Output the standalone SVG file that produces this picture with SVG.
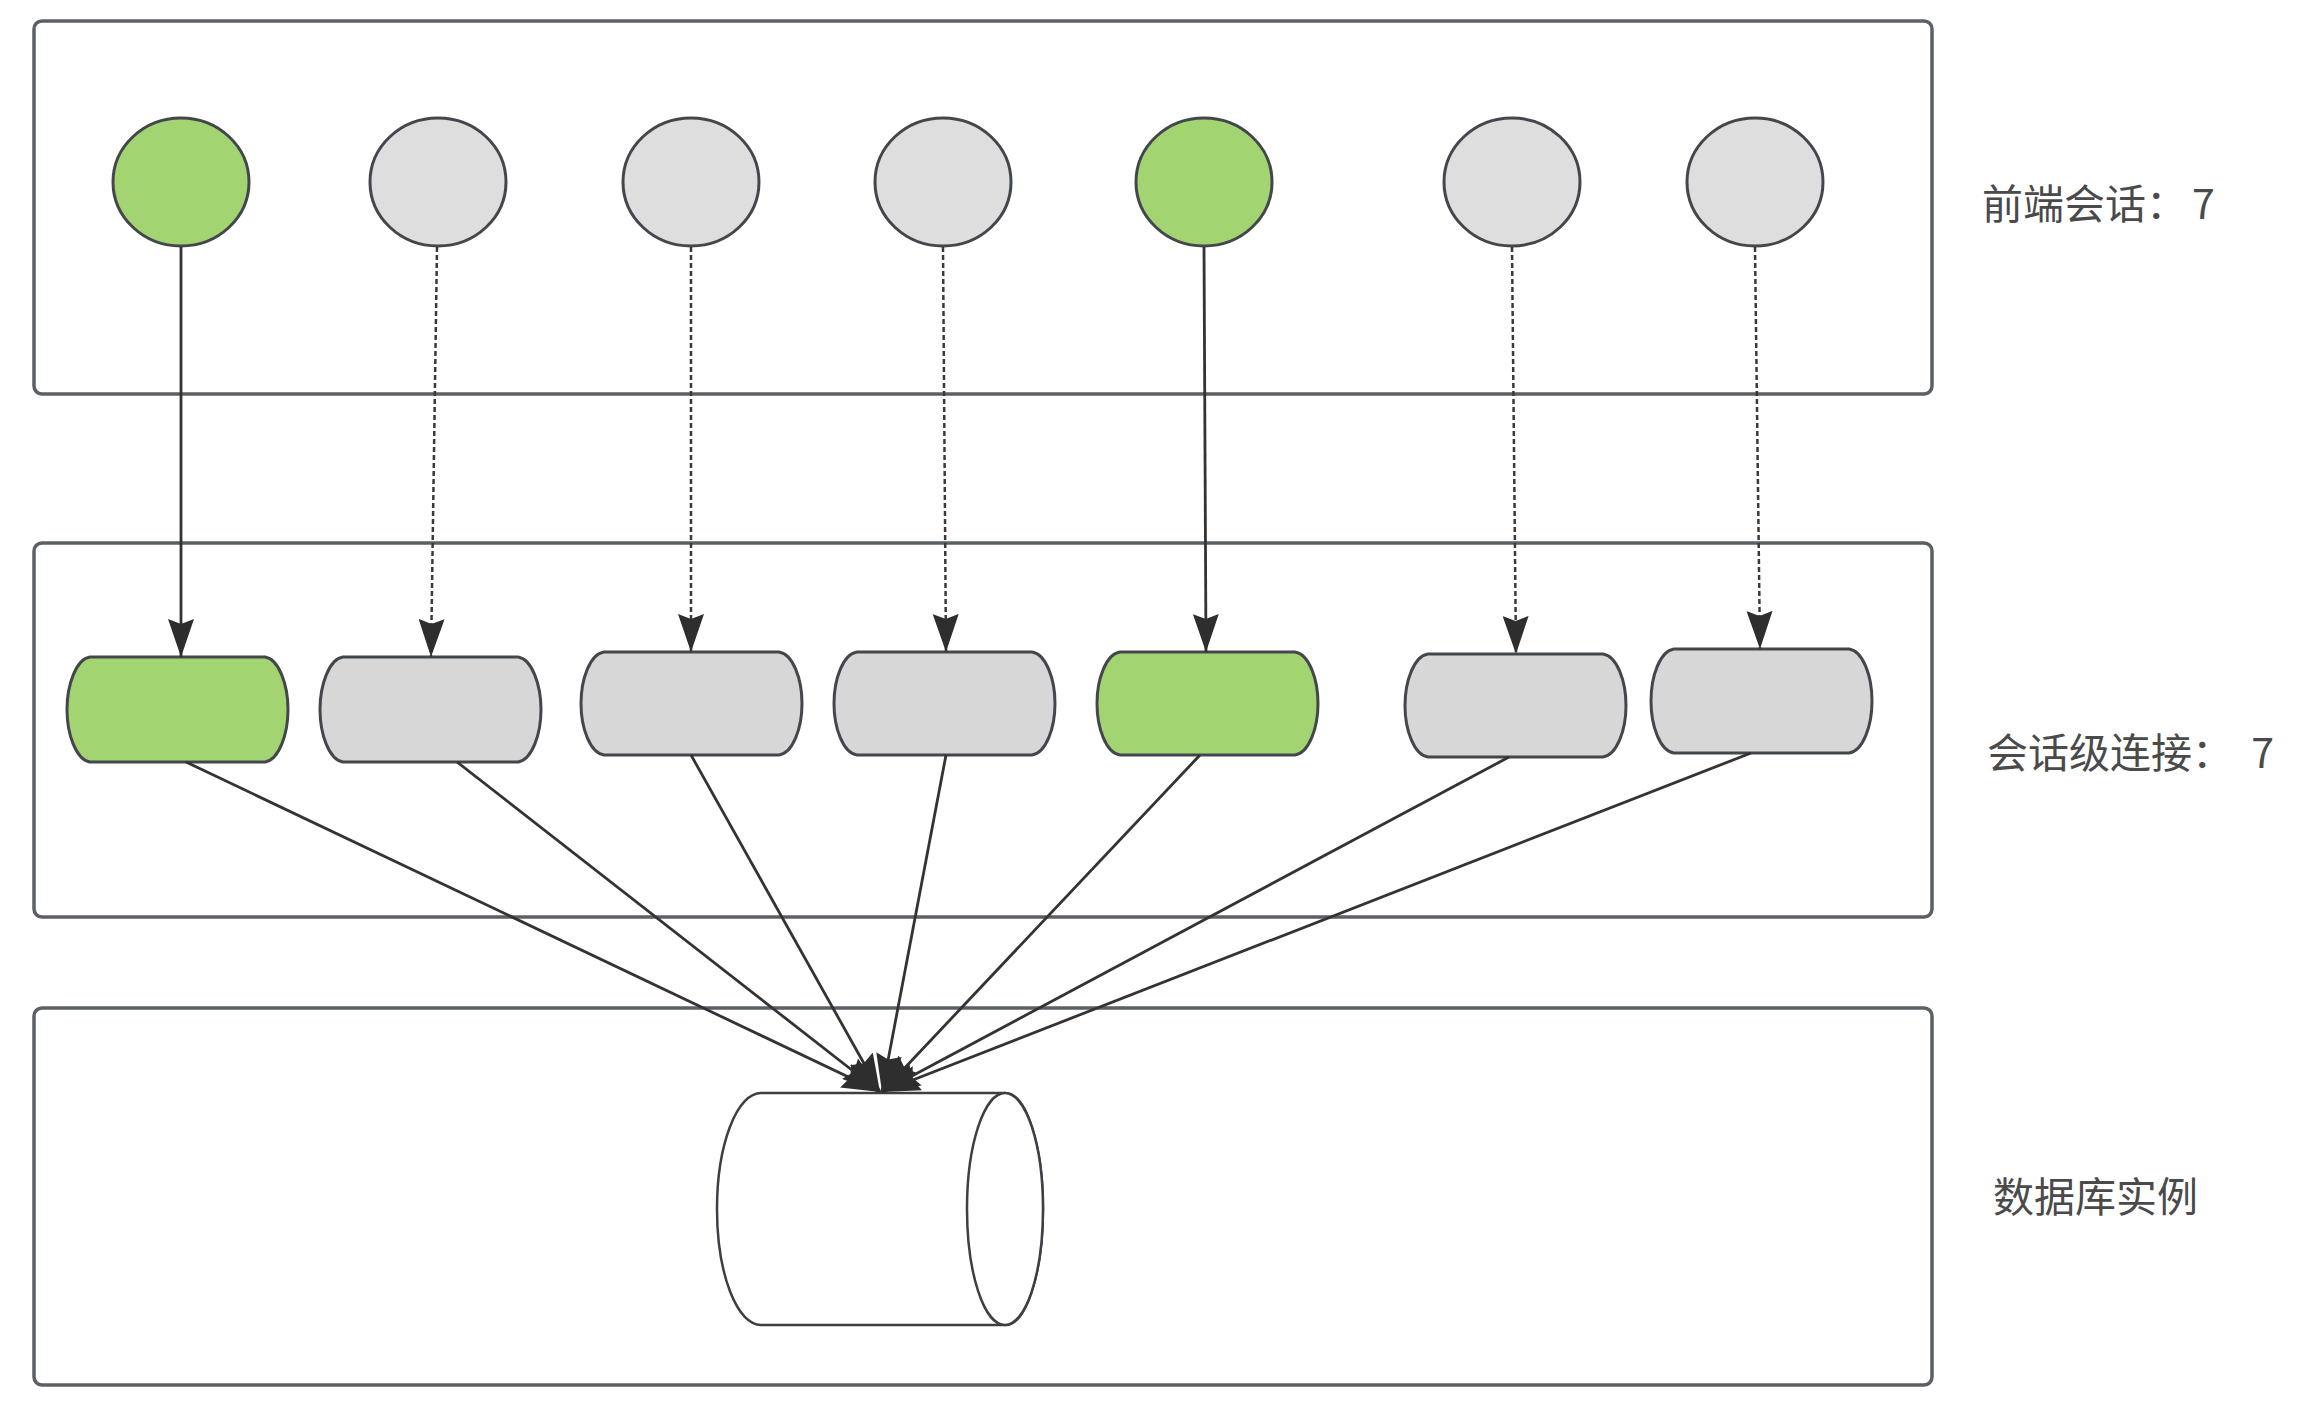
<svg xmlns="http://www.w3.org/2000/svg" width="2302" height="1402" viewBox="0 0 2302 1402">
<style>
.box{fill:none;stroke:#5c6066;stroke-width:3.5}
.ell{stroke:#43474c;stroke-width:3}
.rn{stroke:#43474c;stroke-width:3}
.green{fill:#a2d572}
.grayE{fill:#dedede}
.grayR{fill:#d7d7d7}
.cyl{fill:#ffffff;stroke:#3c4044;stroke-width:2.5}
.solid{fill:none;stroke:#333;stroke-width:2.8;marker-end:url(#arr)}
.dash{fill:none;stroke:#3a3a3a;stroke-width:2.5;stroke-dasharray:5 3;marker-end:url(#arr)}
.lbl{font-family:"Noto Sans CJK SC","Noto Sans",sans-serif;font-size:41px;fill:#4a4a4a}
</style>
<defs>
<marker id="arr" markerUnits="userSpaceOnUse" viewBox="0 0 38 26" refX="38" refY="13" markerWidth="38" markerHeight="26" orient="auto">
<path d="M0,0 L38,13 L0,26 L5,13 Z" fill="#2e2e2e"/>
</marker>
</defs>
<rect width="2302" height="1402" fill="#ffffff"/>
<g id="layers">
<rect id="frontend-layer" class="box" x="34" y="21" width="1898" height="373" rx="8"/>
<rect id="session-layer" class="box" x="34" y="543" width="1898" height="374" rx="8"/>
<rect id="db-layer" class="box" x="34" y="1008" width="1898" height="377" rx="8"/>
</g>
<g id="labels">
<text id="label-frontend" class="lbl" x="1982" y="219">前端会话：<tspan dx="5">7</tspan></text>
<text id="label-session" class="lbl" x="1987" y="768" xml:space="preserve">会话级连接：  7</text>
<text id="label-db" class="lbl" x="1993" y="1212">数据库实例</text>
</g>
<g id="frontend-sessions">
<g id="fs1"><ellipse class="ell green" cx="181" cy="182" rx="68" ry="64"/></g>
<g id="fs2"><ellipse class="ell grayE" cx="438" cy="182" rx="68" ry="64"/></g>
<g id="fs3"><ellipse class="ell grayE" cx="691" cy="182" rx="68" ry="64"/></g>
<g id="fs4"><ellipse class="ell grayE" cx="943" cy="182" rx="68" ry="64"/></g>
<g id="fs5"><ellipse class="ell green" cx="1204" cy="182" rx="68" ry="64"/></g>
<g id="fs6"><ellipse class="ell grayE" cx="1512" cy="182" rx="68" ry="64"/></g>
<g id="fs7"><ellipse class="ell grayE" cx="1755" cy="182" rx="68" ry="64"/></g>
</g>
<g id="session-connections">
<g id="sc1"><path class="rn green" d="M90,657 H265 C279,659 288,685 288,709.5 C288,734 279,760 265,762 H90 C76,760 67,734 67,709.5 C67,685 76,659 90,657 Z"/></g>
<g id="sc2"><path class="rn grayR" d="M343,657 H518 C532,659 541,685 541,709.5 C541,734 532,760 518,762 H343 C329,760 320,734 320,709.5 C320,685 329,659 343,657 Z"/></g>
<g id="sc3"><path class="rn grayR" d="M604,652 H779 C793,654 802,679 802,703.5 C802,728 793,753 779,755 H604 C590,753 581,728 581,703.5 C581,679 590,654 604,652 Z"/></g>
<g id="sc4"><path class="rn grayR" d="M857,652 H1032 C1046,654 1055,679 1055,703.5 C1055,728 1046,753 1032,755 H857 C843,753 834,728 834,703.5 C834,679 843,654 857,652 Z"/></g>
<g id="sc5"><path class="rn green" d="M1120,652 H1295 C1309,654 1318,679 1318,703.5 C1318,728 1309,753 1295,755 H1120 C1106,753 1097,728 1097,703.5 C1097,679 1106,654 1120,652 Z"/></g>
<g id="sc6"><path class="rn grayR" d="M1428,654 H1603 C1617,656 1626,681 1626,705.5 C1626,730 1617,755 1603,757 H1428 C1414,755 1405,730 1405,705.5 C1405,681 1414,656 1428,654 Z"/></g>
<g id="sc7"><path class="rn grayR" d="M1674,649 H1849 C1863,651 1872,676 1872,701 C1872,726 1863,751 1849,753 H1674 C1660,751 1651,726 1651,701 C1651,676 1660,651 1674,649 Z"/></g>
</g>
<g id="database">
<path class="cyl" d="M761,1093 H1005 A38 116 0 0 1 1005,1325 H761 A44 116 0 0 1 761,1093 Z"/>
<ellipse class="cyl" cx="1005" cy="1209" rx="38" ry="116" fill="none"/>
</g>
<g id="connectors">
<line class="solid" x1="181" y1="247" x2="181" y2="657"/>
<line class="dash" x1="437" y1="247" x2="431" y2="657"/>
<line class="dash" x1="691" y1="247" x2="691" y2="652"/>
<line class="dash" x1="943" y1="247" x2="946" y2="652"/>
<line class="solid" x1="1204" y1="247" x2="1206" y2="652"/>
<line class="dash" x1="1512" y1="247" x2="1516" y2="654"/>
<line class="dash" x1="1755" y1="247" x2="1760" y2="649"/>
<line class="solid" x1="186" y1="762" x2="880" y2="1092"/>
<line class="solid" x1="457" y1="762" x2="880" y2="1092"/>
<line class="solid" x1="691" y1="755" x2="880" y2="1092"/>
<line class="solid" x1="946" y1="755" x2="882" y2="1092"/>
<line class="solid" x1="1200" y1="755" x2="882" y2="1092"/>
<line class="solid" x1="1509" y1="757" x2="882" y2="1092"/>
<line class="solid" x1="1751" y1="753" x2="882" y2="1092"/>
</g>
</svg>
